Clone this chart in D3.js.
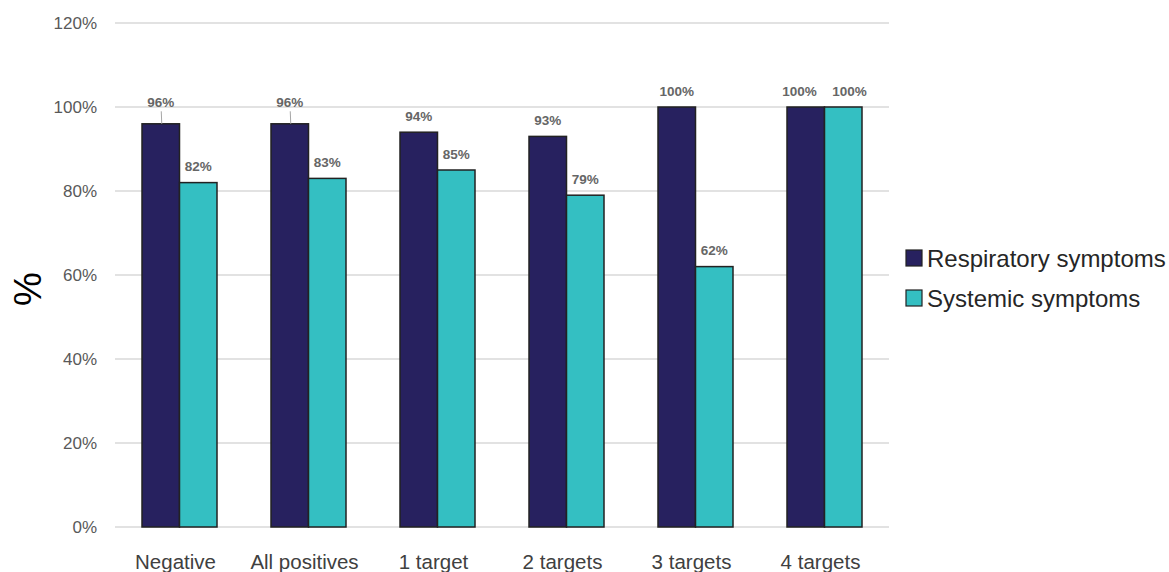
<!DOCTYPE html>
<html>
<head>
<meta charset="utf-8">
<script src="https://cdn.jsdelivr.net/npm/d3@7"></script>
<style>
  html, body { margin: 0; padding: 0; background: #fff; }
  svg { display: block; font-family: "Liberation Sans", Arial, sans-serif; }
</style>
</head>
<body>
<svg id="chart" width="1169" height="572"></svg>
<script>
// Share of cases with each symptom group, by number of targets detected
const categories = ["Negative", "All positives", "1 target", "2 targets", "3 targets", "4 targets"];
const respiratory = [96, 96, 94, 93, 100, 100];
const systemic = [82, 83, 85, 79, 62, 100];
const seriesNames = ["Respiratory symptoms", "Systemic symptoms"];
const seriesColors = ["#27215f", "#34bfc2"];
const yTicks = [0, 20, 40, 60, 80, 100, 120];
// Labels lifted above the gridline and tied to their bar with a leader line
const leaderLabels = ["Negative", "All positives"];

const svg = d3.select("#chart");
const margin = { left: 115, right: 280, top: 23, bottom: 45 };
const W = 1169, H = 572;

const x = d3.scaleBand().domain(categories).range([margin.left, W - margin.right]).paddingInner(0).paddingOuter(0);
const x1 = d3.scaleBand().domain(seriesNames).range([x.bandwidth() / 2 - 37.5, x.bandwidth() / 2 + 37.5]);
const y = d3.scaleLinear().domain([0, 120]).range([H - margin.bottom, margin.top]);

// Gridlines
svg.append("g")
  .selectAll("line")
  .data(yTicks)
  .join("line")
  .attr("x1", margin.left).attr("x2", W - margin.right)
  .attr("y1", d => y(d)).attr("y2", d => y(d))
  .attr("stroke", "#d9d9d9").attr("stroke-width", 1.3);

// Y axis tick labels
const yAxis = d3.axisLeft(y).tickValues(yTicks).tickFormat(d => d + "%").tickSize(0).tickPadding(18);
const yg = svg.append("g").attr("transform", `translate(${margin.left},0)`).call(yAxis);
yg.select(".domain").remove();
yg.selectAll("text").attr("font-size", 17).attr("fill", "#595959").attr("font-family", "Liberation Sans, Arial, sans-serif");

// X axis category labels
const xAxis = d3.axisBottom(x).tickSize(0).tickPadding(0);
const xg = svg.append("g").attr("transform", `translate(0,${y(0)})`).call(xAxis);
xg.select(".domain").remove();
xg.selectAll("text")
  .attr("dy", null)
  .attr("y", 42)
  .attr("x", -4)
  .attr("font-size", 20.5)
  .attr("fill", "#404040")
  .attr("font-family", "Liberation Sans, Arial, sans-serif");

// Y axis title
svg.append("text")
  .attr("transform", `translate(41,${(y(0) + y(120)) / 2 + 14}) rotate(-90)`)
  .attr("text-anchor", "middle")
  .attr("font-size", 38)
  .attr("fill", "#000")
  .text("%");

// Bars
const rows = categories.map((c, i) => ({ category: c, values: [respiratory[i], systemic[i]] }));
const groups = svg.append("g").selectAll("g")
  .data(rows)
  .join("g")
  .attr("transform", d => `translate(${x(d.category)},0)`);

groups.selectAll("rect")
  .data(d => d.values.map((v, j) => ({ series: seriesNames[j], value: v, color: seriesColors[j] })))
  .join("rect")
  .attr("x", d => x1(d.series))
  .attr("width", x1.bandwidth())
  .attr("y", d => y(d.value))
  .attr("height", d => y(0) - y(d.value))
  .attr("fill", d => d.color)
  .attr("stroke", "#222")
  .attr("stroke-width", 1.5);

// Value labels (labels that would collide side by side are pushed apart)
const minLabelGap = 50;
groups.each(function (d) {
  const g = d3.select(this);
  const labels = d.values.map((v, j) => {
    const lifted = j === 0 && leaderLabels.includes(d.category);
    return {
      v, lifted,
      cx: x1(seriesNames[j]) + x1.bandwidth() / 2,
      ly: y(v) - (lifted ? 16.5 : 11.5)
    };
  });
  const [a, b] = labels;
  if (Math.abs(a.ly - b.ly) < 14 && b.cx - a.cx < minLabelGap) {
    const push = (minLabelGap - (b.cx - a.cx)) / 2;
    a.tx = a.cx - push;
    b.tx = b.cx + push;
  }
  labels.forEach(l => {
    if (l.lifted) {
      g.append("line")
        .attr("x1", l.cx + 0.5).attr("x2", l.cx + 1)
        .attr("y1", l.ly + 4).attr("y2", y(l.v))
        .attr("stroke", "#a6a6a6").attr("stroke-width", 1);
    }
    g.append("text")
      .attr("x", l.tx ?? l.cx)
      .attr("y", l.ly)
      .attr("text-anchor", "middle")
      .attr("font-size", 13.5)
      .attr("font-weight", "bold")
      .attr("fill", "#666")
      .text(l.v + "%");
  });
});

// Legend
const legend = svg.append("g").attr("transform", "translate(906,0)");
seriesNames.forEach((name, i) => {
  const ly = 258 + i * 40;
  legend.append("rect")
    .attr("x", 0).attr("y", ly - 8)
    .attr("width", 16).attr("height", 16)
    .attr("fill", seriesColors[i])
    .attr("stroke", "#222").attr("stroke-width", 1.2);
  legend.append("text")
    .attr("x", 21).attr("y", ly + 8.5)
    .attr("font-size", 24)
    .attr("fill", "#262626")
    .text(name);
});
</script>
</body>
</html>
